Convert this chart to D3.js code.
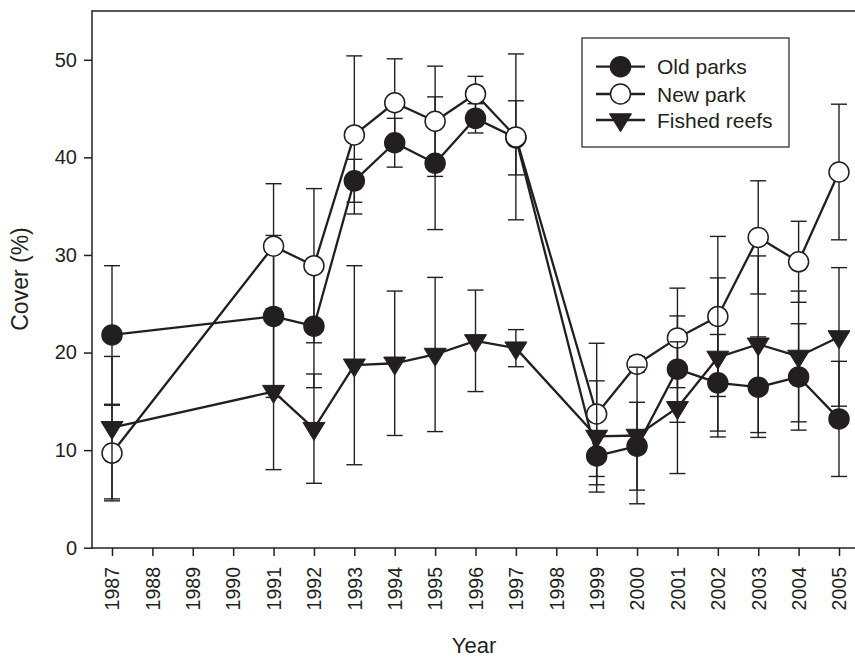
<!DOCTYPE html>
<html>
<head>
<meta charset="utf-8">
<script src="https://cdn.jsdelivr.net/npm/d3@7"></script>
<style>
  html, body { margin: 0; padding: 0; background: #fff; }
  svg { display: block; }
  text { font-family: "Liberation Sans", Arial, Helvetica, sans-serif; fill: #231f20; }
</style>
</head>
<body>
<svg id="chart" width="855" height="657"></svg>
<script>
// ---- data ----
const tickYears = [1987,1988,1989,1990,1991,1992,1993,1994,1995,1996,1997,1998,1999,2000,2001,2002,2003,2004,2005];
const sampleYears = [1987,1991,1992,1993,1994,1995,1996,1997,1999,2000,2001,2002,2003,2004,2005];
const yTicks = [0,10,20,30,40,50];

const oldParks    = [21.8, 23.7, 22.7, 37.6, 41.5, 39.4, 44.0, 42.0,  9.4, 10.4, 18.3, 16.9, 16.45, 17.5, 13.2];
const oldParksErr = [ 7.1,  8.3,  6.3,  2.2,  2.5,  6.8,  1.5,  3.8,  2.1,  4.5, 5.45, 4.95, 5.15, 5.45,  5.9];
const newPark     = [ 9.7, 30.9, 28.9, 42.3, 45.6, 43.7, 46.5, 42.1, 13.7, 18.8, 21.5, 23.7, 31.8, 29.3, 38.5];
const newParkErr  = [ 4.9,  6.4,  7.9,  8.1,  4.5, 5.65,  1.8,  8.5, 7.25,  0.8,  5.1,  8.2,  5.8, 4.15, 6.95];
const fished      = [12.3, 16.0, 12.2, 18.7, 18.9, 19.8, 21.2, 20.45, 11.4, 11.5, 14.35, 19.5, 20.85, 19.6, 21.6];
const fishedErr   = [ 7.3,  8.0,  5.6, 10.2,  7.4,  7.9,  5.2,  1.9,  5.7,  7.0, 6.75, 8.15, 9.05,  6.7,  7.1];

const seriesNames = ["Old parks", "New park", "Fished reefs"];

// ---- layout ----
const ink = "#231f20";
const svg = d3.select("#chart");
const plotLeft = 92, plotTop = 11, plotBottom = 548, plotRight = 855;

const x = d3.scaleLinear().domain([1987, 2005]).range([112, 839]);
const y = d3.scaleLinear().domain([0, 55]).range([547.7, 11]);

// frame top line
svg.append("line").attr("x1", plotLeft).attr("x2", plotRight).attr("y1", plotTop).attr("y2", plotTop)
  .attr("stroke", ink).attr("stroke-width", 1.5);

// y axis
const yAxis = svg.append("g").attr("transform", `translate(${plotLeft},0)`)
  .call(d3.axisLeft(y).tickValues(yTicks).tickFormat(d3.format("d")).tickSize(8).tickPadding(7).tickSizeOuter(0));
yAxis.select(".domain").remove();
yAxis.selectAll(".tick line").attr("stroke", ink).attr("stroke-width", 1.5);
yAxis.selectAll(".tick text").style("font-size", "20px").attr("fill", ink);
svg.append("line").attr("x1", plotLeft).attr("x2", plotLeft).attr("y1", plotTop - 0.75).attr("y2", plotBottom + 0.75)
  .attr("stroke", ink).attr("stroke-width", 1.5);

// x axis
const xAxis = svg.append("g").attr("transform", `translate(0,${plotBottom})`)
  .call(d3.axisBottom(x).tickValues(tickYears).tickFormat(d3.format("d")).tickSize(8).tickSizeOuter(0));
xAxis.select(".domain").remove();
xAxis.selectAll(".tick line").attr("stroke", ink).attr("stroke-width", 1.5);
xAxis.selectAll(".tick text")
  .style("font-size", "19.5px").attr("fill", ink)
  .attr("text-anchor", "end")
  .attr("y", 0).attr("dy", "0.35em")
  .attr("transform", "translate(0,19) rotate(-90)");
svg.append("line").attr("x1", plotLeft).attr("x2", plotRight).attr("y1", plotBottom).attr("y2", plotBottom)
  .attr("stroke", ink).attr("stroke-width", 1.5);

// axis titles
svg.append("text").attr("x", 474).attr("y", 653).attr("text-anchor", "middle")
  .style("font-size", "22px").text("Year");
svg.append("text").attr("transform", "translate(28,279) rotate(-90)").attr("text-anchor", "middle")
  .style("font-size", "23px").text("Cover (%)");

// ---- markers ----
const triPath = "M0,11.8L-11,-6.2L11,-6.2Z";
function drawMarker(g, kind) {
  if (kind === 0) g.append("circle").attr("r", 10).attr("fill", ink).attr("stroke", ink).attr("stroke-width", 1.5);
  else if (kind === 1) g.append("circle").attr("r", 10).attr("fill", "#fff").attr("stroke", ink).attr("stroke-width", 1.5);
  else g.append("path").attr("d", triPath).attr("fill", ink).attr("stroke", ink).attr("stroke-width", 1);
}

const allSeries = [
  {vals: oldParks, errs: oldParksErr},
  {vals: newPark, errs: newParkErr},
  {vals: fished, errs: fishedErr}
];

const line = d3.line().x(d => x(d.year)).y(d => y(d.v));

allSeries.forEach((s, k) => {
  const pts = sampleYears.map((yr, i) => ({year: yr, v: s.vals[i], e: s.errs[i]}));
  const g = svg.append("g");
  // error bars
  const eb = g.append("g");
  pts.forEach(p => {
    const xx = x(p.year), y1 = y(p.v + p.e), y2 = y(p.v - p.e);
    eb.append("line").attr("x1", xx).attr("x2", xx).attr("y1", y1).attr("y2", y2)
      .attr("stroke", ink).attr("stroke-width", 1.4);
    [y1, y2].forEach(yy => eb.append("line").attr("x1", xx - 8).attr("x2", xx + 8).attr("y1", yy).attr("y2", yy)
      .attr("stroke", ink).attr("stroke-width", 1.4));
  });
  // connecting line
  g.append("path").datum(pts).attr("d", line).attr("fill", "none")
    .attr("stroke", ink).attr("stroke-width", 2.3).attr("stroke-linejoin", "round");
  // markers
  pts.forEach(p => {
    const m = g.append("g").attr("transform", `translate(${x(p.year)},${y(p.v)})`);
    drawMarker(m, k);
  });
});

// ---- legend ----
const lg = svg.append("g");
lg.append("rect").attr("x", 582).attr("y", 38).attr("width", 207).attr("height", 109)
  .attr("fill", "#fff").attr("stroke", ink).attr("stroke-width", 1.2);
const legendY = [66.7, 94, 120];
seriesNames.forEach((name, k) => {
  const yy = legendY[k];
  lg.append("line").attr("x1", 596).attr("x2", 645).attr("y1", yy).attr("y2", yy)
    .attr("stroke", ink).attr("stroke-width", 2.3);
  const m = lg.append("g").attr("transform", `translate(620.5,${yy})`);
  drawMarker(m, k);
  lg.append("text").attr("x", 657).attr("y", yy).attr("dy", "0.36em")
    .style("font-size", "21px").text(name);
});
</script>
</body>
</html>
